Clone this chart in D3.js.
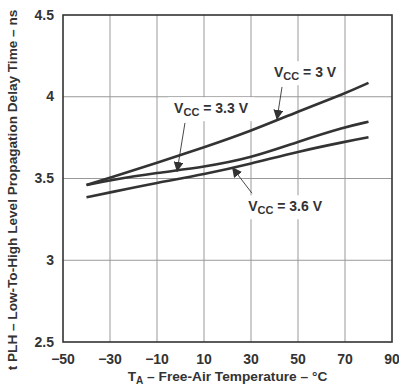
<!DOCTYPE html>
<html><head><meta charset="utf-8">
<script src="https://cdn.jsdelivr.net/npm/d3@7"></script>
<style>
body{margin:0;background:#fff;}
text{font-family:"Liberation Sans",Arial,sans-serif;}
</style></head>
<body><svg id="chart" width="399" height="387"></svg>
<script>
const temps = [-40, -30, -10, 10, 30, 50, 70, 80];
const vcc30 = [3.46, 3.505, 3.595, 3.69, 3.79, 3.91, 4.02, 4.085];
const vcc33 = [3.46, 3.49, 3.535, 3.57, 3.625, 3.725, 3.815, 3.847];
const vcc36 = [3.385, 3.415, 3.474, 3.525, 3.59, 3.665, 3.725, 3.752];
const xTicks = [-50, -30, -10, 10, 30, 50, 70, 90];
const yTicks = [2.5, 3, 3.5, 4, 4.5];
const labels = ["3 V", "3.3 V", "3.6 V"];
// annotation anchors in data units: label center, arrow start, arrow tip
const labelPos = [[53, 4.15], [13, 3.93], [44.5, 3.33]];
const arrowFrom = [[43.2, 4.06], [1.9, 3.84], [30.4, 3.41]];
const arrowTo = [[41, 3.858], [-1.5, 3.54], [21.9, 3.57]];

const svg = d3.select("#chart");
const m = {l:63, t:15, r:7, b:45};
const W = 399, H = 387;
const x = d3.scaleLinear().domain([-50, 90]).range([m.l, W - m.r]);
const y = d3.scaleLinear().domain([2.5, 4.5]).range([H - m.b, m.t]);
const ink = "#333";

// grid
svg.append("g").selectAll("line").data(xTicks.slice(1, -1)).join("line")
  .attr("x1", d => x(d)).attr("x2", d => x(d)).attr("y1", y(2.5)).attr("y2", y(4.5))
  .attr("stroke", "#999").attr("stroke-width", 1);
svg.append("g").selectAll("line").data(yTicks.slice(1, -1)).join("line")
  .attr("x1", x(-50)).attr("x2", x(90)).attr("y1", d => y(d)).attr("y2", d => y(d))
  .attr("stroke", "#999").attr("stroke-width", 1);

// frame
svg.append("rect").attr("x", x(-50)).attr("y", y(4.5))
  .attr("width", x(90) - x(-50)).attr("height", y(2.5) - y(4.5))
  .attr("fill", "none").attr("stroke", ink).attr("stroke-width", 1.6);

// tick labels
svg.append("g").selectAll("text").data(yTicks).join("text")
  .attr("x", x(-50) - 9).attr("y", d => y(d) + 4.5).attr("text-anchor", "end")
  .attr("font-size", 14).attr("font-weight", "bold").attr("fill", ink)
  .text(d => d);
svg.append("g").selectAll("text").data(xTicks).join("text")
  .attr("x", d => x(d)).attr("y", y(2.5) + 22).attr("text-anchor", "middle")
  .attr("font-size", 14).attr("font-weight", "bold").attr("fill", ink)
  .text(d => d < 0 ? "\u2212" + Math.abs(d) : d);

// axis titles
const xt = svg.append("text").attr("x", (x(-50) + x(90)) / 2 + 0).attr("y", 381)
  .attr("text-anchor", "middle").attr("font-size", 13.7).attr("font-weight", "bold").attr("fill", ink);
xt.append("tspan").text("T");
xt.append("tspan").attr("font-size", 10).attr("dy", 3).text("A");
xt.append("tspan").attr("dy", -3).text(" \u2013 Free-Air Temperature \u2013 \u00B0C");

svg.append("text").attr("transform", "translate(17,190) rotate(-90)")
  .attr("text-anchor", "middle").attr("font-size", 13.6).attr("font-weight", "bold").attr("fill", ink)
  .text("t PLH \u2013 Low-To-High Level Propagation Delay Time \u2013 ns");

// curves
const line = d3.line().x((d, i) => x(temps[i])).y(d => y(d)).curve(d3.curveBasis);
[vcc30, vcc33, vcc36].forEach(s => {
  svg.append("path").attr("d", line(s)).attr("fill", "none")
    .attr("stroke", ink).attr("stroke-width", 2.6);
});

// arrows
svg.append("defs").append("marker").attr("id", "ah").attr("viewBox", "0 0 10 10")
  .attr("refX", 10).attr("refY", 5).attr("markerWidth", 10).attr("markerHeight", 10)
  .attr("markerUnits", "userSpaceOnUse").attr("orient", "auto")
  .append("path").attr("d", "M0,0L10,5L0,10Z").attr("fill", ink);

labels.forEach((lab, i) => {
  const g = svg.append("g");
  const t = g.append("text").attr("x", x(labelPos[i][0])).attr("y", y(labelPos[i][1]) + 5)
    .attr("text-anchor", "middle").attr("font-size", 14).attr("font-weight", "bold").attr("fill", ink);
  t.append("tspan").text("V");
  t.append("tspan").attr("font-size", 11).attr("dy", 3).text("CC");
  t.append("tspan").attr("dy", -3).text(" = " + lab);
  const bb = t.node().getBBox();
  g.insert("rect", "text").attr("x", bb.x - 6).attr("y", bb.y - 3)
    .attr("width", bb.width + 12).attr("height", bb.height + 6).attr("fill", "#fff");
  svg.append("line")
    .attr("x1", x(arrowFrom[i][0])).attr("y1", y(arrowFrom[i][1]))
    .attr("x2", x(arrowTo[i][0])).attr("y2", y(arrowTo[i][1]))
    .attr("stroke", ink).attr("stroke-width", 0.9).attr("marker-end", "url(#ah)");
});
</script></body></html>
